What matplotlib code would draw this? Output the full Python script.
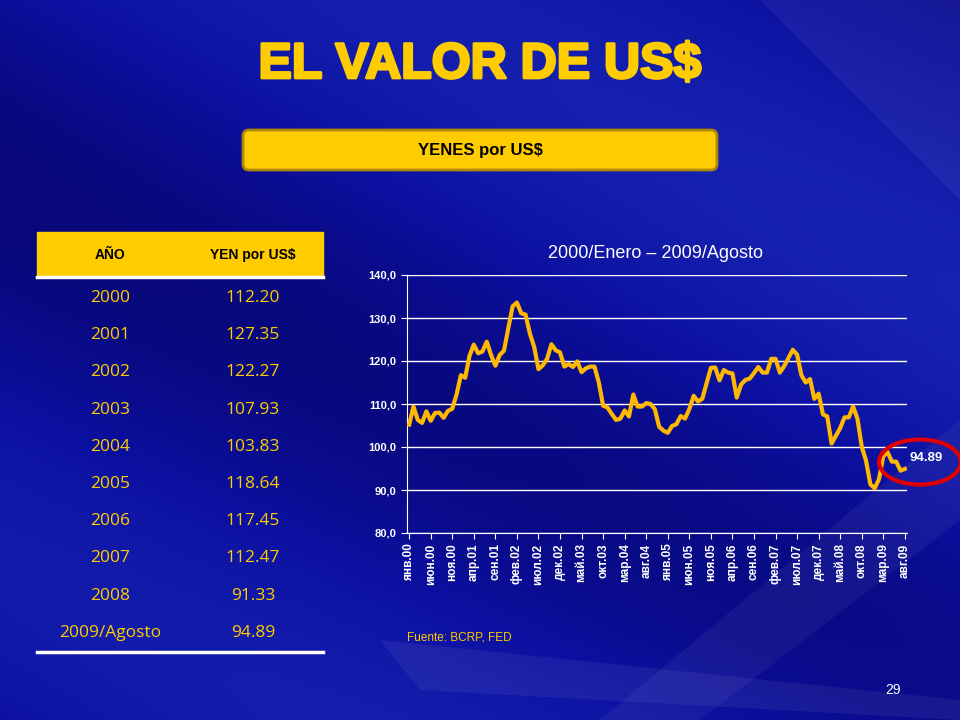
import matplotlib
matplotlib.use("Agg")
import matplotlib.pyplot as plt
import numpy as np
from matplotlib.patches import FancyBboxPatch, Ellipse, Rectangle, Polygon
from matplotlib.colors import LinearSegmentedColormap
import matplotlib.patheffects as pe

years = ["2000", "2001", "2002", "2003", "2004", "2005", "2006", "2007", "2008", "2009/Agosto"]
yen_table = ["112.20", "127.35", "122.27", "107.93", "103.83", "118.64", "117.45", "112.47", "91.33", "94.89"]

monthly = [105.2, 109.4, 106.3, 105.6, 108.3, 106.1, 107.9, 108.0, 106.8, 108.4, 108.9, 112.2,
           116.7, 116.1, 121.2, 123.8, 121.8, 122.2, 124.5, 121.4, 118.9, 121.4, 122.4, 127.6,
           132.7, 133.6, 131.1, 130.8, 126.4, 123.3, 118.1, 119.0, 120.5, 123.9, 122.5, 122.0,
           118.7, 119.3, 118.6, 119.9, 117.4, 118.3, 118.7, 118.7, 115.0, 109.6, 109.2, 107.7,
           106.3, 106.6, 108.5, 107.1, 112.2, 109.4, 109.4, 110.2, 110.0, 108.8, 104.7, 103.8,
           103.3, 104.9, 105.3, 107.2, 106.6, 108.8, 111.9, 110.6, 111.2, 114.8, 118.4, 118.5,
           115.5, 117.9, 117.3, 117.1, 111.5, 114.5, 115.6, 115.9, 117.2, 118.6, 117.3, 117.3,
           120.5, 120.5, 117.3, 118.8, 120.7, 122.6, 121.5, 116.7, 115.0, 115.8, 111.2, 112.4,
           107.6, 107.1, 100.8, 102.6, 104.4, 106.9, 106.9, 109.4, 106.6, 100.1, 96.8, 91.3,
           90.4, 92.5, 97.9, 98.8, 96.6, 96.6, 94.5, 94.9]
tick_labels = ["янв.00", "июн.00", "ноя.00", "апр.01", "сен.01", "фев.02", "июл.02", "дек.02",
               "май.03", "окт.03", "мар.04", "авг.04", "янв.05", "июн.05", "ноя.05", "апр.06",
               "сен.06", "фев.07", "июл.07", "дек.07", "май.08", "окт.08", "мар.09", "авг.09"]

W, H = 960, 720
fig = plt.figure(figsize=(9.6, 7.2), dpi=100)

bg = fig.add_axes([0, 0, 1, 1])
bg.set_xlim(0, W); bg.set_ylim(H, 0); bg.axis("off")
yy, xx = np.mgrid[0:H:4, 0:W:4]
val = 0.5 + 0.2 * np.sin((xx * 0.5 - yy) / 120.0) + 0.1 * (xx / W)
cmap = LinearSegmentedColormap.from_list("b", ["#08087a", "#0c10a0", "#1622b0"])
bg.imshow(val, extent=[0, W, H, 0], cmap=cmap, aspect="auto", zorder=0)
for pts, a in [([(600, 720), (960, 420), (960, 520), (700, 720)], 0.05),
               ([(380, 640), (960, 700), (960, 720), (420, 690)], 0.06),
               ([(760, 0), (960, 0), (960, 200)], 0.05)]:
    bg.add_patch(Polygon(pts, closed=True, color="white", alpha=a, lw=0, zorder=1))

bg.text(480, 65, "EL VALOR DE US$", color="#FFCC00", fontsize=36, fontweight="heavy",
        ha="center", va="center", family="Liberation Sans", zorder=3,
        path_effects=[pe.withStroke(linewidth=2, foreground="#FFCC00")])
bg.add_patch(FancyBboxPatch((243, 130), 474, 40, boxstyle="round,pad=0,rounding_size=6",
                            fc="#FFCC00", ec="#B08800", lw=2, zorder=3))
bg.text(480, 150, "YENES por US$", color="black", fontsize=12, fontweight="bold",
        ha="center", va="center", family="Liberation Sans", zorder=4)

bg.add_patch(Rectangle((37, 232), 286, 45, color="#FFCC00", zorder=3))
bg.plot([37, 323], [277, 277], color="white", lw=2.5, zorder=4)
bg.text(110, 255, "AÑO", fontsize=10, fontweight="bold", ha="center", va="center",
        family="Liberation Sans", zorder=4)
bg.text(253, 255, "YEN por US$", fontsize=10, fontweight="bold", ha="center", va="center",
        family="Liberation Sans", zorder=4)
for i, (yr, v) in enumerate(zip(years, yen_table)):
    y = 298 + i * 37.2
    bg.text(110, y, yr, color="#FFCC00", fontsize=12.5, ha="center", va="center",
            family="Open Sans", zorder=4)
    bg.text(253, y, v, color="#FFCC00", fontsize=12.5, ha="center", va="center",
            family="Open Sans", zorder=4)
bg.plot([37, 323], [652, 652], color="white", lw=2.5, zorder=4)

bg.text(655, 253, "2000/Enero – 2009/Agosto", color="white", fontsize=13,
        ha="center", va="center", family="Liberation Sans", zorder=4)
bg.text(407, 638, "Fuente: BCRP, FED", color="#FFCC00", fontsize=8.5,
        ha="left", va="center", family="Liberation Sans", zorder=4)
bg.text(893, 690, "29", color="white", fontsize=10, ha="center", va="center",
        family="Liberation Sans", zorder=4)

ax = fig.add_axes([407 / W, 1 - 533 / H, 500 / W, 258 / H])
ax.patch.set_alpha(0)
x = np.arange(len(monthly))
ax.plot(x, monthly, color="#FFB800", lw=3, solid_joinstyle="round", zorder=3)
ax.set_ylim(80, 140)
ax.set_xlim(-0.5, len(monthly) - 0.5)
ax.set_yticks(np.arange(80, 141, 10))
ax.set_yticklabels([f"{v},0" for v in range(80, 141, 10)], color="white",
                   fontsize=8, fontweight="bold", family="Liberation Sans")
ax.set_xticks(np.arange(0, len(monthly), 5))
ax.set_xticklabels(tick_labels, rotation=90, color="white", fontsize=8.5,
                   fontweight="bold", family="Liberation Sans")
ax.yaxis.grid(True, color="white", lw=1)
ax.set_axisbelow(True)
for s in ["top", "right"]:
    ax.spines[s].set_visible(False)
ax.spines["left"].set_color("white")
ax.spines["bottom"].set_color("white")
ax.tick_params(colors="white", length=4)
ax.text(len(monthly) - 1 + 1, 97.5, "94.89", color="white", fontsize=9.5, fontweight="bold",
        family="Liberation Sans", ha="left", va="center", zorder=4)
ax.add_patch(Ellipse((len(monthly) + 2.5, 96.5), 19, 10.5, fill=False, ec="#E00000",
                     lw=3, clip_on=False, zorder=5))

fig.savefig("out.png", dpi=100)
